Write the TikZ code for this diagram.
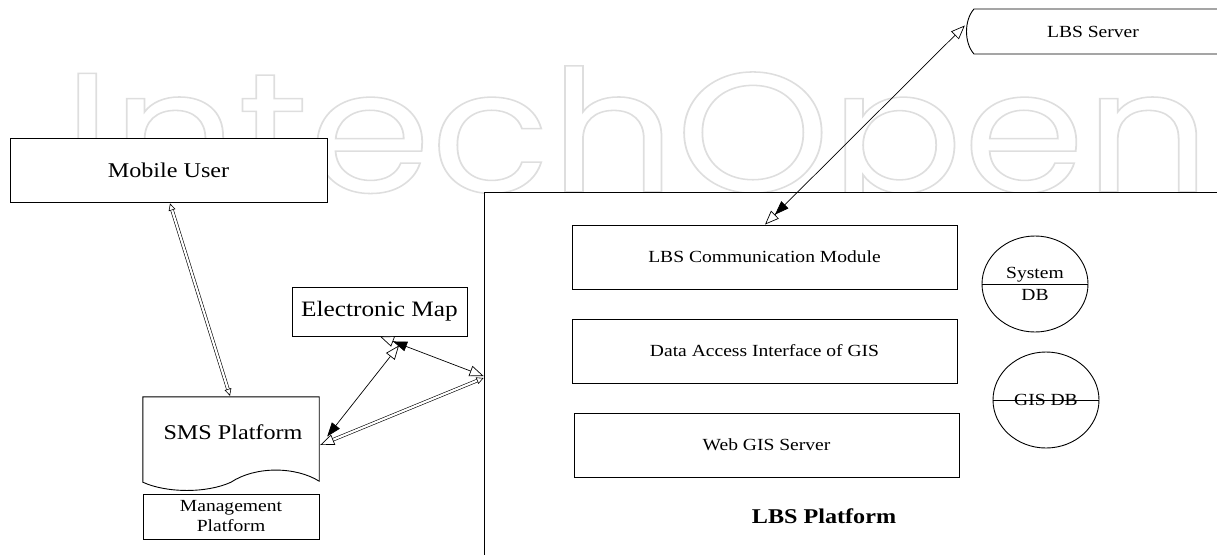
\documentclass[tikz,border=0pt]{standalone}
\usepackage{fontspec}
\usepackage{graphicx}
\setmainfont{Liberation Serif}[FakeStretch=1.15]
\newfontfamily\wmplain{Poppins}
\usetikzlibrary{arrows.meta,calc,shapes.geometric}

% outlined (stroked, unfilled) text through the PDF text rendering mode
\newcommand\outlinedtext[1]{\special{pdf:literal direct 1 Tr 0.09 w}#1\special{pdf:literal direct 0 Tr}}

\tikzset{
  OpenHd/.tip={Triangle[length=14pt,width=11pt,line width=0.7pt,fill=white]},
  FullHd/.tip={Triangle[length=14pt,width=10pt]},
  DualHd/.tip={Triangle[length=14pt,width=10pt] Triangle[length=14pt,width=11pt,line width=0.7pt,fill=white]},
  SmallOpenHd/.tip={Triangle[length=7pt,width=7pt,line width=0.6pt,fill=white]},
  box/.style={draw,line width=0.9pt,fill=white,inner sep=0pt,align=center},
  f17/.style={font=\fontsize{17pt}{21pt}\selectfont},
  f21/.style={font=\fontsize{21pt}{25pt}\selectfont},
  link/.style={line width=0.7pt},
  dlink/.style={line width=0.6pt,double,double distance=2.2pt},
}

\begin{document}
\begin{tikzpicture}[x=1pt,y=-1pt]
\useasboundingbox (0,0) rectangle (1217,554);
\clip (0,0) rectangle (1217,554);

% faint outlined watermark lettering behind the diagram
\node[anchor=base west,inner sep=0pt,text=black!13] (wm) at (63,192)
  {\resizebox{1147pt}{126pt}{\outlinedtext{\wmplain IntechOpen}}};

% LBS server (stored-data shape, running off the right edge)
\draw[line width=0.9pt,fill=white] (974,9) -- (1226,9)
  .. controls (1216,20) and (1216,43) .. (1226,54) -- (974,54)
  .. controls (964,43) and (964,20) .. (974,9) -- cycle;
\node[f17,minimum width=252pt,minimum height=45pt,inner sep=0pt] (srv) at (1093,31.5) {LBS Server};

% mobile user
\node[box,f21,minimum width=317pt,minimum height=64pt] (mu) at (168.5,170) {Mobile User};

% LBS platform container
\node[box,minimum width=756pt,minimum height=408pt] (lbsp) at (862,396) {};
\node[font=\fontsize{21pt}{25pt}\selectfont\bfseries] (lbspl) at (824,516) {LBS Platform};

\node[box,f17,minimum width=385pt,minimum height=64pt] (lbsc) at (764.5,257) {LBS Communication Module};
\node[box,f17,minimum width=385pt,minimum height=64pt] (dai) at (764.5,351) {Data Access Interface of GIS};
\node[box,f17,minimum width=385pt,minimum height=64pt] (wgs) at (766.5,445) {Web GIS Server};

% databases
\node[draw,ellipse,line width=0.9pt,inner sep=0pt,minimum width=106pt,minimum height=96pt,
      f17,align=center] (sdb) at (1035,284) {System\\[1pt]DB};
\draw[line width=0.8pt] (sdb.west) -- (sdb.east);
\node[draw,ellipse,line width=0.9pt,inner sep=0pt,minimum width=106pt,minimum height=96pt,
      f17] (gdb) at (1046,400) {GIS DB};
\draw[line width=0.8pt] (gdb.west) -- (gdb.east);

% electronic map
\node[box,minimum width=175pt,minimum height=49pt,font=\fontsize{22pt}{26pt}\selectfont] (em) at (379.5,311.5) {Electronic Map};

% SMS platform (document shape) and management platform
\node[minimum width=176pt,minimum height=85pt,inner sep=0pt] (smsbody) at (231,439.5) {};
\draw[line width=0.9pt,fill=white] (smsbody.north west) -- (smsbody.north east)
  -- ([shift={(0,-1)}]smsbody.south east)
  .. controls ($(smsbody.south east)+(-24,-16)$) and ($(smsbody.south)+(24,-16)$) .. (smsbody.south)
  .. controls ($(smsbody.south)+(-24,11)$) and ($(smsbody.south west)+(24,11)$) .. (smsbody.south west)
  -- cycle;
\node[f21] (sms) at (233,432) {SMS Platform};
\node[box,f17,minimum width=176pt,minimum height=45pt,align=center] (mgmt) at (231,516.5)
  {Management\\[-1pt]Platform};

% connector end points
\coordinate (muS)   at ([shift={(1.5,1)}]mu.south);
\coordinate (smsN)  at ([shift={(-1,-1)}]smsbody.north);
\coordinate (smsR1) at ([shift={(1,5.5)}]smsbody.east);
\coordinate (smsR2) at ([shift={(8,-3)}]smsbody.east);
\coordinate (emA)   at ([shift={(0.5,0)}]em.south);
\coordinate (emB)   at ([shift={(19.5,9)}]em.south);
\coordinate (lbspA) at ([shift={(0,-20)}]lbsp.west);
\coordinate (lbspC) at ([shift={(0,-18)}]lbsp.west);
\coordinate (srvW)  at ([shift={(-2,-6)}]srv.west);
\coordinate (lbscN) at ([shift={(0.5,0)}]lbsc.north);

% connectors
\draw[dlink,{SmallOpenHd}-{SmallOpenHd}] (muS) -- (smsN);
\draw[dlink,{OpenHd}-{SmallOpenHd}] (smsR1) -- (lbspC);
\draw[link,{FullHd}-{OpenHd}] (smsR2) -- (emB);
\draw[link,{OpenHd}-{DualHd}] (lbspA) -- (emA);
\draw[link,{OpenHd}-{DualHd}] (srvW) -- (lbscN);
\end{tikzpicture}
\end{document}
